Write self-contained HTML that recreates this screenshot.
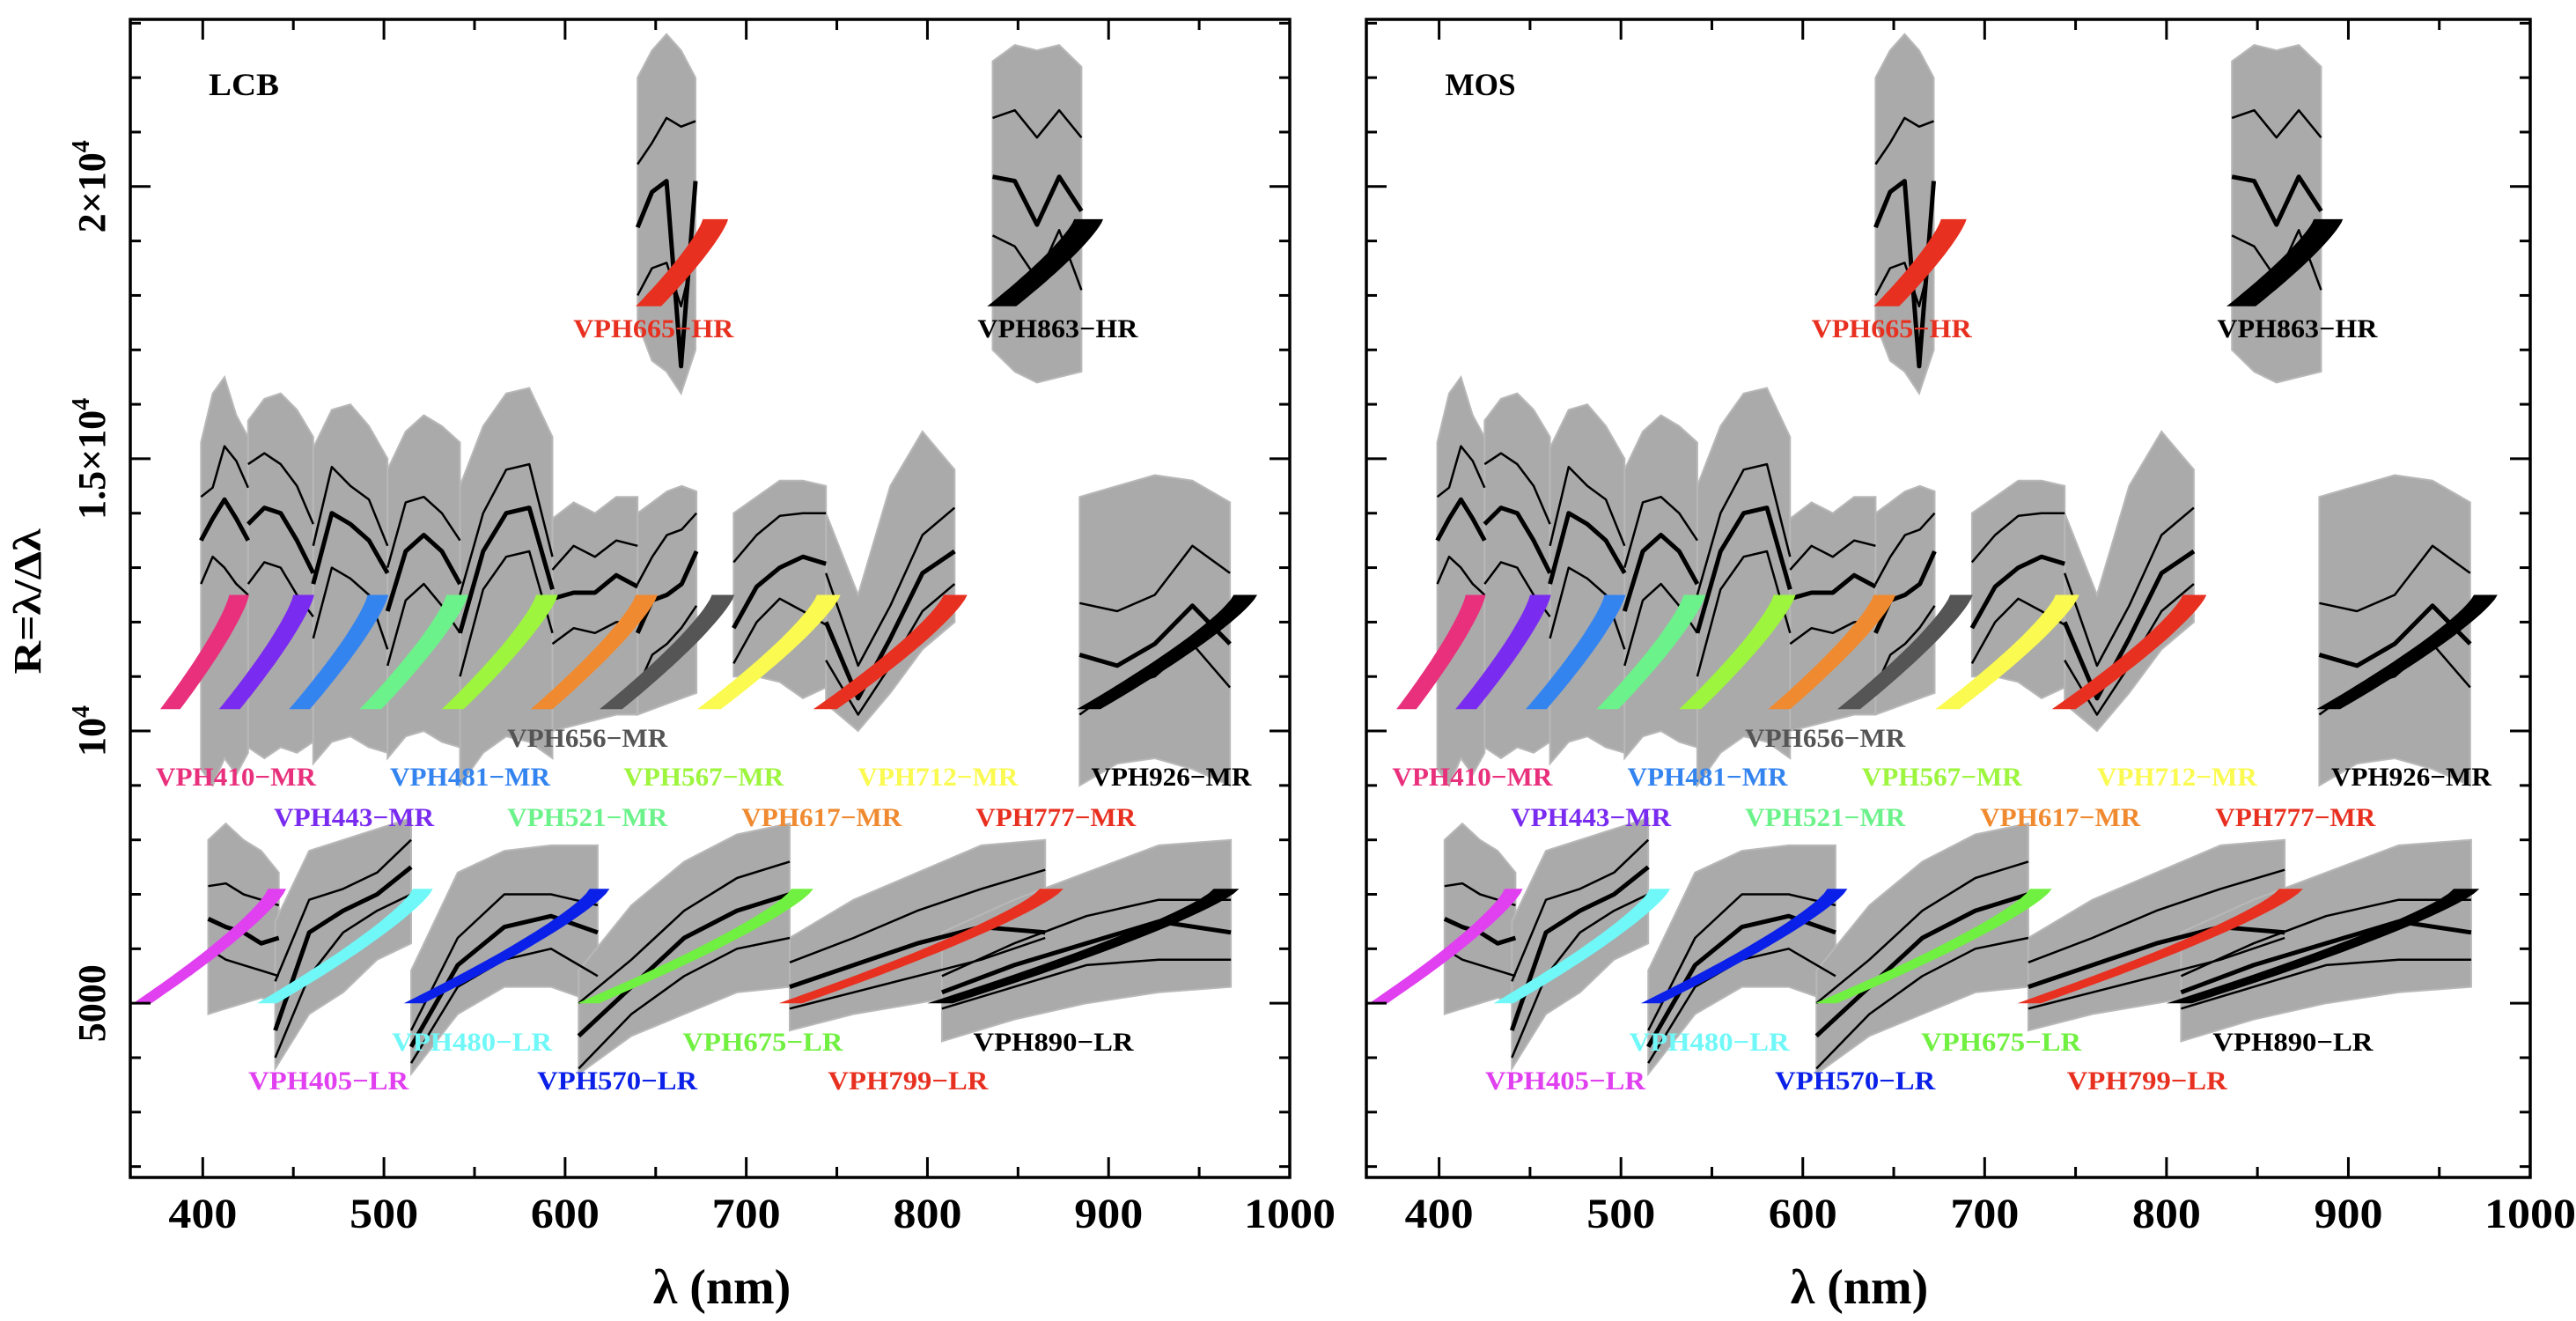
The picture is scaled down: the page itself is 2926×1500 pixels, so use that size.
<!DOCTYPE html>
<html><head><meta charset="utf-8"><style>
html,body{margin:0;padding:0;background:#fff;}
svg{display:block;font-family:"Liberation Serif",serif;font-weight:bold;}
</style></head><body>
<svg id="chart" width="2926" height="1500" viewBox="0 0 2926 1500" xmlns="http://www.w3.org/2000/svg"></svg>
<script>
// ---- data ----
const gratingNames = ["VPH410-MR","VPH443-MR","VPH481-MR","VPH521-MR","VPH567-MR","VPH617-MR","VPH656-MR","VPH712-MR","VPH777-MR","VPH926-MR","VPH665-HR","VPH863-HR","VPH405-LR","VPH480-LR","VPH570-LR","VPH675-LR","VPH799-LR","VPH890-LR"];
const gratingColors = ["#e8307c","#7a2bf0","#3484f0","#6cf28a","#9df53e","#f08a30","#555555","#fafa50","#e83020","#000000","#e83020","#000000","#e040f0","#70f8f8","#0a20e8","#70f040","#e83020","#000000"];
const labelColors = ["#e8307c","#7a2bf0","#3484f0","#6cf28a","#9df53e","#f08a30","#555555","#fafa50","#e83020","#000000","#e83020","#000000","#e040f0","#70f8f8","#0a20e8","#70f040","#e83020","#000000"];
// colour band: bottom-left lambda, top-left lambda, width (nm), R bottom, R top
const bandL0 = [376.5,409,447.6,486.6,532,581,619,673,737,882.5,639,833,361.6,430,511,606.7,718,800];
const bandL1 = [414.6,450,491,534.5,584,639,681,739,809,969,676,881,436,516,613.5,725,862,958];
const bandW  = [11,11.5,11.5,12,12,12,12.5,13,13,13,14,16,10,11,11,12,13,14];
const bandR0 = [10400,10400,10400,10400,10400,10400,10400,10400,10400,10400,17800,17800,5000,5000,5000,5000,5000,5000];
const bandR1 = [12500,12500,12500,12500,12500,12500,12500,12500,12500,12500,19400,19400,7100,7100,7100,7100,7100,7100];
// measured range
const dataStart = [399,425,461,502,542,593,640,693,744,884,640,836,403,440,515,607.5,724,808];
const dataEnd   = [425,461,502,542,593,640,672.5,744,815,967,672,885,442,515,618,724,865,967.5];
const hiVals = [
 [14300,14470,15230,14960,14470],[14900,15100,14900,14500,13800],[13400,14850,14500,14250,13400],[13000,14200,14300,14000,13500],
 [12500,14000,14800,14900,13200],[12960,13400,13200,13500,13400],[12700,13200,13600,13700,14000],[13100,13600,13950,14000,14000],
 [12900,11200,12300,13600,14100],[12350,12200,12500,13400,12900],[20410,20800,21260,21100,21200],[21260,21400,20900,21400,20900],
 [7150,7200,7000,6900,6800],[5400,6900,7100,7400,8000],[4500,6200,7000,7000,6800],[5000,5800,6700,7300,7600],
 [5750,6200,6700,7100,7450],[5500,6100,6600,6900,6900]];
const medVals = [
 [13500,13900,14250,13900,13500],[13800,14100,14000,13500,12900],[12700,14000,13800,13500,12900],[12200,13300,13600,13300,12700],
 [11800,13300,14000,14100,12600],[12430,12540,12540,12860,12650],[11800,12400,12500,12700,13300],[11890,12650,13000,13200,13070],
 [12000,10600,11700,12900,13300],[11400,11200,11600,12300,11600],[19250,19900,20100,16700,20100],[20180,20100,19300,20180,19550],
 [6550,6400,6300,6100,6200],[4500,6300,6700,7000,7500],[4200,5700,6400,6600,6300],[4400,5300,6200,6700,7000],
 [5300,5700,6100,6400,6300],[5200,5700,6100,6500,6300]];
const loVals = [
 [12700,13200,13000,12700,12500],[12700,13100,13000,12500,12100],[11700,13000,12800,12500,11500],[11200,12400,12700,12300,11800],
 [11000,12600,13200,13300,11800],[11600,11890,11800,12000,12000],[10800,11400,11600,11900,12300],[11240,12000,12430,12200,11950],
 [11300,10300,11200,12200,12700],[10300,10800,11000,11600,10800],[18000,18500,18600,17800,18900],[19100,18900,18300,19200,18100],
 [6000,5800,5700,5600,5500],[4000,5500,6300,6700,7000],[3900,5300,5800,6000,5500],[3800,4800,5500,6000,6200],
 [4900,5200,5500,5800,6200],[4900,5300,5700,5800,5800]];
const grayTop = [
 [15300,16200,16500,15800,15400],[15700,16100,16200,15900,15400],[15200,15900,16000,15600,15000],[14800,15500,15800,15600,15300],
 [14500,15600,16200,16300,15400],[13900,14200,14000,14300,14300],[14000,14200,14400,14500,14400],[14000,14300,14600,14600,14500],
 [14000,12500,14500,15500,14800],[14300,14500,14700,14600,14200],[22000,22500,22800,22500,22000],[22300,22600,22500,22600,22200],
 [8000,8300,8000,7800,7400],[6500,7800,8000,8200,8400],[5600,7400,7800,7900,7900],[5600,6800,7600,8100,8300],
 [6200,6900,7400,7900,8000],[6300,6900,7400,7900,8000]];
const grayBot = [
 [9300,9000,9500,9200,9600],[9700,9500,9700,9600,9800],[9400,9800,9900,9700,9600],[9500,9900,10000,9800,9700],
 [9000,9600,9900,9800,9500],[10000,10100,10200,10300,10300],[10300,10400,10500,10600,10700],[11000,11000,10900,10600,10800],
 [10500,10000,10700,11500,12000],[9000,9400,9500,9300,9000],[17500,16800,16600,16200,17000],[17000,16600,16400,16500,16600],
 [4800,4900,5000,5100,5000],[3800,4800,5200,5800,6100],[3700,4800,5300,5300,5000],[3700,4400,4800,5200,5300],
 [4500,4800,5000,5200,5200],[4300,4700,5000,5200,5300]];
const labelL = [418.3,483.5,547.6,612.3,676.5,741.6,612.3,805.8,870.9,934.6,648.8,871.9,469.4,548.6,628.8,709.1,789.3,869.5];
const labelR = [9160,8414,9160,8414,9160,8414,9870,9160,8414,9160,17394,17394,3577,4289,3577,4289,3577,4289];
const xTicksMajor = [400,500,600,700,800,900,1000];
const xTickLabels = ["400","500","600","700","800","900","1000"];
const yTicksMajor = [5000,10000,15000,20000];
const panelTitles = ["LCB","MOS"];

// ---- geometry ----
const NS = "http://www.w3.org/2000/svg";
const svg = document.getElementById("chart");
const panels = [{x0:148,x1:1465},{x0:1552,x1:2874}];
const yTop = 22, yBot = 1337, LMIN = 360, LMAX = 1000, RMIN = 1800, RMAX = 23070;
function yS(r){ return yBot - (r - RMIN) / (RMAX - RMIN) * (yBot - yTop); }
function xS(p, l){ return p.x0 + (l - LMIN) / (LMAX - LMIN) * (p.x1 - p.x0); }
function mk(tag, attrs, parent){ const e = document.createElementNS(NS, tag); for (const k in attrs) e.setAttribute(k, attrs[k]); (parent||svg).appendChild(e); return e; }
function lamAt(i, k, n){ return dataStart[i] + (dataEnd[i] - dataStart[i]) * k / (n - 1); }

panels.forEach((p, pi) => {
  const g = mk("g", {});
  
  
  gratingNames.forEach((nm, i) => {
    const n = grayTop[i].length;
    let pts = [];
    for (let k = 0; k < n; k++) pts.push(xS(p, lamAt(i,k,n)).toFixed(1) + "," + yS(grayTop[i][k]).toFixed(1));
    for (let k = n - 1; k >= 0; k--) pts.push(xS(p, lamAt(i,k,n)).toFixed(1) + "," + yS(grayBot[i][k]).toFixed(1));
    const poly = mk("polygon", {points: pts.join(" "), fill: "#aaaaaa", stroke: "#b8b8b8", "stroke-width": 2}, g);
    
    
  });
  gratingNames.forEach((nm, i) => {
    [[hiVals,2.5,'upper'],[medVals,5,'median'],[loVals,2.5,'lower']].forEach(([arr, w, tag]) => {
      const n = arr[i].length;
      let d = "";
      for (let k = 0; k < n; k++) d += (k ? "L" : "M") + xS(p, lamAt(i,k,n)).toFixed(1) + "," + yS(arr[i][k]).toFixed(1);
      const path = mk("path", {d: d, fill: "none", stroke: "#000", "stroke-width": w, "stroke-linejoin": "round"}, g);
      
      
    });
  });
  gratingNames.forEach((nm, i) => {
    const N = 24; let L = [], Rr = [];
    for (let k = 0; k <= N; k++) {
      const t = k / N;
      const lam = bandL0[i] + (bandL1[i] - bandL0[i]) * (1 - Math.pow(1 - t, 1.25));
      const r = bandR0[i] + (bandR1[i] - bandR0[i]) * t;
      L.push(xS(p, lam).toFixed(1) + "," + yS(r).toFixed(1));
      Rr.push(xS(p, lam + bandW[i]).toFixed(1) + "," + yS(r).toFixed(1));
    }
    const band = mk("polygon", {points: L.concat(Rr.reverse()).join(" "), fill: gratingColors[i]}, g);
    
    
  });
  gratingNames.forEach((nm, i) => {
    const t = mk("text", {x: xS(p, labelL[i]).toFixed(1), y: (yS(labelR[i]) + 10).toFixed(1), "text-anchor": "middle", "font-size": 30, fill: labelColors[i], textLength: 182, lengthAdjust: "spacingAndGlyphs"}, g);
    t.textContent = nm.replace("-", "\u2212");
    
    
  });
  const fr = mk("rect", {x: p.x0, y: yTop, width: p.x1 - p.x0, height: yBot - yTop, fill: "none", stroke: "#000", "stroke-width": 3.5}, g);
  
  
  for (let l = 400; l < 1000; l += 50) {
    const len = (l % 100 === 0) ? 23 : 12, x = xS(p, l);
    const t1 = mk("line", {x1: x, x2: x, y1: yBot, y2: yBot - len, stroke: "#000", "stroke-width": 3}, g);
    
    
    const t2 = mk("line", {x1: x, x2: x, y1: yTop, y2: yTop + len, stroke: "#000", "stroke-width": 3}, g);
    
    
  }
  xTicksMajor.forEach((l, k) => {
    const t = mk("text", {x: xS(p, l), y: 1394, "text-anchor": "middle", "font-size": 48, fill: "#000", textLength: xTickLabels[k].length * 26, lengthAdjust: "spacingAndGlyphs"}, g);
    t.textContent = xTickLabels[k];
    
    
  });
  for (let r = 2000; r <= 23000; r += 1000) {
    const len = (r % 5000 === 0) ? 23 : 12, y = yS(r);
    const t1 = mk("line", {x1: p.x0, x2: p.x0 + len, y1: y, y2: y, stroke: "#000", "stroke-width": 3}, g);
    
    
    const t2 = mk("line", {x1: p.x1, x2: p.x1 - len, y1: y, y2: y, stroke: "#000", "stroke-width": 3}, g);
    
    
  }
  const ttl = mk("text", {x: xS(p, 422.7), y: 108, "text-anchor": "middle", "font-size": 36, fill: "#000", textLength: 80, lengthAdjust: "spacingAndGlyphs"}, g);
  ttl.textContent = panelTitles[pi];
  
  
  const xt = mk("text", {x: pi === 0 ? 820 : 2112, y: 1480, "text-anchor": "middle", "font-size": 56, fill: "#000"}, g);
  xt.textContent = "\u03bb (nm)";
  
  
});

const yLabelHtml = ["5000", "10<tspan dy='-18' font-size='28'>4</tspan>", "1.5\u00d710<tspan dy='-18' font-size='28'>4</tspan>", "2\u00d710<tspan dy='-18' font-size='28'>4</tspan>"];
yTicksMajor.forEach((r, k) => {
  const y = yS(r);
  const t = mk("text", {x: 0, y: 0, "text-anchor": "middle", "font-size": 44, fill: "#000", transform: "translate(119," + y.toFixed(1) + ") rotate(-90)"});
  t.innerHTML = yLabelHtml[k];
  
  
});
const yt = mk("text", {x: 0, y: 0, "text-anchor": "middle", "font-size": 44, fill: "#000", transform: "translate(46,683) rotate(-90)", textLength: 165, lengthAdjust: "spacingAndGlyphs"});
yt.textContent = "R=\u03bb/\u0394\u03bb";


</script>
</body></html>
